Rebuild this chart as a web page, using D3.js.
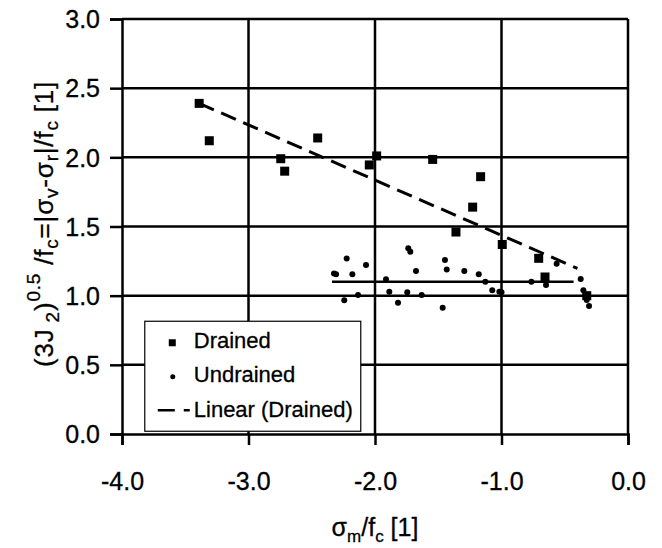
<!DOCTYPE html>
<html>
<head>
<meta charset="utf-8">
<script src="https://cdn.jsdelivr.net/npm/d3@7"></script>
<style>
  body { margin: 0; background: #fff; }
  svg text { font-family: "Liberation Sans", Arial, Helvetica, sans-serif; fill: #000; stroke: #000; stroke-width: 0.3; }
</style>
</head>
<body>
<div id="chart"></div>
<script>
// drained tests: sigma_m/fc, (3J2)^0.5/fc
var drainedX = [-3.39, -3.31, -2.745, -2.714, -2.453, -2.045, -1.987, -1.544, -1.165, -1.228, -1.36, -0.994, -0.706, -0.656, -0.326];
var drainedY = [2.39, 2.12, 1.99, 1.90, 2.14, 1.945, 2.01, 1.985, 1.86, 1.64, 1.46, 1.37, 1.27, 1.135, 1.0];

// undrained tests
var undrainedX = [-2.324, -2.308, -2.224, -2.179, -2.071, -2.243, -2.134, -1.913, -1.887, -1.818, -1.745, -1.631,
  -1.737, -1.721, -1.676, -1.447, -1.433, -1.465, -1.294, -1.18, -1.128, -1.073, -1.017, -1.0,
  -0.764, -0.648, -0.564, -0.374, -0.353, -0.332, -0.326, -0.308];
var undrainedY = [1.161, 1.154, 1.269, 1.154, 1.221, 0.966, 1.004, 1.118, 1.028, 0.949, 1.024, 1.004,
  1.342, 1.317, 1.178, 1.257, 1.19, 0.913, 1.178, 1.154, 1.10, 1.04, 1.028, 1.024,
  1.10, 1.077, 1.231, 1.12, 1.04, 1.004, 0.968, 0.925];

// horizontal level drawn through the undrained results
var undrainedLineX = [-2.34, -0.43];
var undrainedLineY = [1.10, 1.10];

// Linear (Drained) trend, end points
var trendX = [-3.39, -0.40];
var trendY = [2.39, 1.197];

var xTicks = [-4, -3, -2, -1, 0];
var yTicks = [0, 0.5, 1, 1.5, 2, 2.5, 3];
var legendLabels = ["Drained", "Undrained", "Linear (Drained)"];

var margin = {top: 19, right: 34, bottom: 114, left: 122};
var width = 662, height = 548;
var chartWidth = width - margin.left - margin.right;
var chartHeight = height - margin.top - margin.bottom;

var svg = d3.select("#chart").append("svg")
    .attr("width", width)
    .attr("height", height)
  .append("g")
    .attr("transform", `translate(${margin.left}, ${margin.top})`);

var xScale = d3.scaleLinear().domain([-4, 0]).range([0, chartWidth]);
var yScale = d3.scaleLinear().domain([0, 3]).range([chartHeight, 0]);

var drained = drainedX.map((d, i) => ({x: d, y: drainedY[i]}));
var undrained = undrainedX.map((d, i) => ({x: d, y: undrainedY[i]}));

// gridlines
svg.append("g").selectAll("line")
  .data(yTicks.slice(1))
  .join("line")
    .attr("x1", 0).attr("x2", chartWidth)
    .attr("y1", d => yScale(d)).attr("y2", d => yScale(d))
    .attr("stroke", "#000").attr("stroke-width", 2.5);

svg.append("g").selectAll("line")
  .data(xTicks.slice(1))
  .join("line")
    .attr("x1", d => xScale(d)).attr("x2", d => xScale(d))
    .attr("y1", 0).attr("y2", chartHeight)
    .attr("stroke", "#000").attr("stroke-width", 2.5);

var xAxis = d3.axisBottom(xScale)
  .tickValues(xTicks)
  .tickFormat(d => d.toFixed(1))
  .tickSize(11)
  .tickPadding(27);

var yAxis = d3.axisLeft(yScale)
  .tickValues(yTicks)
  .tickFormat(d => d.toFixed(1))
  .tickSize(12)
  .tickPadding(10);

var gx = svg.append("g")
    .attr("transform", `translate(0,${chartHeight})`)
    .call(xAxis);
var gy = svg.append("g").call(yAxis);

[gx, gy].forEach(g => {
  g.select(".domain").attr("stroke", "#000").attr("stroke-width", 2.5);
  g.selectAll(".tick line").attr("stroke", "#000").attr("stroke-width", 2.5);
  g.selectAll("text").style("font-size", "25px").attr("fill", "#000");
});
gx.selectAll("text").attr("dy", "0.71em");
gy.selectAll("text").attr("dy", "0.35em");

// undrained level line
svg.append("line")
    .attr("x1", xScale(undrainedLineX[0])).attr("x2", xScale(undrainedLineX[1]))
    .attr("y1", yScale(undrainedLineY[0])).attr("y2", yScale(undrainedLineY[1]))
    .attr("stroke", "#000").attr("stroke-width", 2.5);

// Linear (Drained)
svg.append("line")
    .attr("x1", xScale(trendX[0])).attr("y1", yScale(trendY[0]))
    .attr("x2", xScale(trendX[1])).attr("y2", yScale(trendY[1]))
    .attr("stroke", "#000").attr("stroke-width", 3)
    .attr("stroke-dasharray", "16,8");

svg.append("g").selectAll("circle")
  .data(undrained)
  .join("circle")
    .attr("cx", d => xScale(d.x))
    .attr("cy", d => yScale(d.y))
    .attr("r", 3)
    .attr("fill", "#000");

svg.append("g").selectAll("rect")
  .data(drained)
  .join("rect")
    .attr("x", d => xScale(d.x) - 4.5)
    .attr("y", d => yScale(d.y) - 4.5)
    .attr("width", 9)
    .attr("height", 9)
    .attr("fill", "#000");

// legend
var legend = svg.append("g")
    .attr("transform", `translate(${xScale(-3.82)}, ${yScale(0.815)})`);

legend.append("rect")
    .attr("width", 216).attr("height", 110)
    .attr("fill", "#fff").attr("stroke", "#000").attr("stroke-width", 1.2);

var items = legend.selectAll("g.item")
  .data(legendLabels)
  .join("g")
    .attr("class", "item")
    .attr("transform", (d, i) => `translate(0, ${19 + i * 34.5})`);

items.append("text")
    .attr("x", 49)
    .attr("dy", "0.35em")
    .style("font-size", "22px")
    .text(d => d);

items.filter((d, i) => i === 0).append("rect")
    .attr("x", 24).attr("y", -1).attr("width", 7).attr("height", 7)
    .attr("fill", "#000");
items.filter((d, i) => i === 1).append("circle")
    .attr("cx", 28).attr("cy", 2).attr("r", 2.5)
    .attr("fill", "#000");
items.filter((d, i) => i === 2).append("line")
    .attr("x1", 13).attr("x2", 45)
    .attr("y1", 1).attr("y2", 1)
    .attr("stroke", "#000").attr("stroke-width", 2.5)
    .attr("stroke-dasharray", "17,9");

// axis titles
var xTitle = svg.append("text")
    .attr("x", chartWidth / 2)
    .attr("y", chartHeight + 102)
    .attr("text-anchor", "middle")
    .style("font-size", "25px");
xTitle.append("tspan").text("σ");
xTitle.append("tspan").attr("dy", 6).style("font-size", "17px").text("m");
xTitle.append("tspan").attr("dy", -6).text("/f");
xTitle.append("tspan").attr("dy", 6).style("font-size", "17px").text("c");
xTitle.append("tspan").attr("dy", -6).text(" [1]");

var yTitle = svg.append("text")
    .attr("transform", `translate(${53 - margin.left}, ${224 - margin.top}) rotate(-90)`)
    .attr("text-anchor", "middle")
    .style("font-size", "26px")
    .style("letter-spacing", "0.8px");
var parts = [
  ["(3J", 0, 26], [" 2", 6, 19], [")", 0, 26], ["0.5", -13, 19], [" /f", 0, 26], ["c", 5, 19],
  ["=|σ", 0, 26], ["v", 5, 19], ["-σ", 0, 26], ["r", 5, 19], ["|/f", 0, 26], ["c", 5, 19], [" [1]", 0, 26]
];
var prev = 0;
parts.forEach(p => {
  yTitle.append("tspan")
    .attr("dy", p[1] - prev)
    .style("font-size", p[2] + "px")
    .text(p[0]);
  prev = p[1];
});
</script>
</body>
</html>
